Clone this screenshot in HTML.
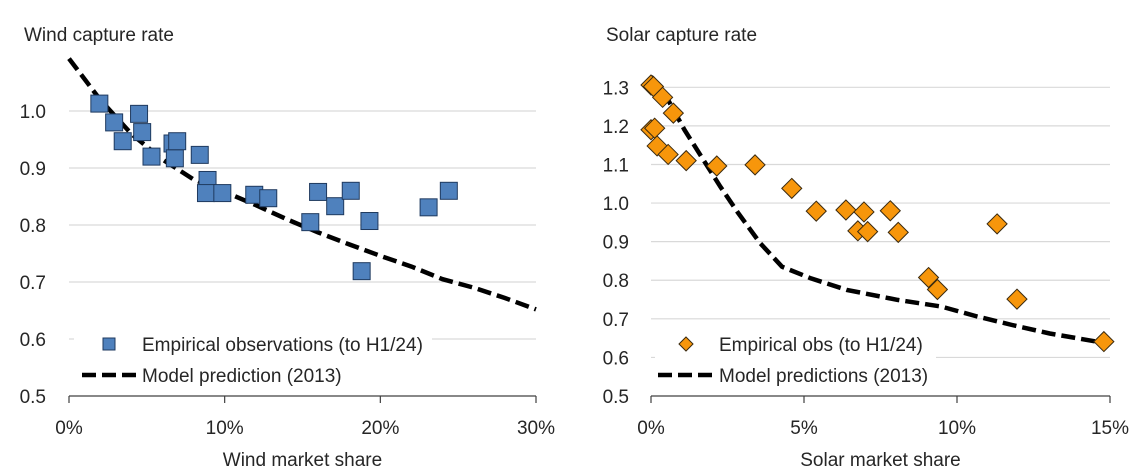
<!DOCTYPE html>
<html><head><meta charset="utf-8"><style>
html,body{margin:0;padding:0;background:#fff;width:1147px;height:472px;overflow:hidden}
svg text{font-family:"Liberation Sans",sans-serif;fill:#262626}
</style></head><body>
<svg id="c" width="1147" height="472" viewBox="0 0 1147 472" xmlns="http://www.w3.org/2000/svg"></svg>
<script>
const windShare=[1.95,2.9,3.45,4.5,4.7,5.3,6.65,6.8,6.95,8.4,8.9,8.8,9.85,11.9,12.8,15.5,16.0,17.1,18.1,18.8,19.3,23.1,24.4];
const windRate=[1.013,0.98,0.947,0.995,0.963,0.92,0.943,0.917,0.947,0.923,0.879,0.856,0.856,0.853,0.847,0.805,0.858,0.833,0.860,0.719,0.807,0.831,0.860];
const windModelX=[0,2,4,6,8,10,12,14,16,18,20,22,24,26,28,30];
const windModelY=[1.092,1.02,0.96,0.915,0.88,0.858,0.835,0.81,0.787,0.766,0.746,0.727,0.705,0.69,0.672,0.652];
const solarShare=[0,0.08,0.38,0.73,0,0.12,0.2,0.56,1.15,2.15,3.4,4.6,5.4,6.37,6.76,6.96,7.08,7.82,8.08,9.07,9.36,11.31,11.96,14.8];
const solarRate=[1.306,1.302,1.274,1.233,1.19,1.194,1.148,1.126,1.11,1.096,1.099,1.038,0.979,0.982,0.928,0.977,0.926,0.98,0.924,0.807,0.776,0.946,0.751,0.641];
const solarModelX=[0,0.5,1.09,1.68,2.27,2.86,3.57,4.28,5.22,6.4,8.06,9.48,10.66,11.8,13.03,15];
const solarModelY=[1.328,1.276,1.19,1.116,1.042,0.973,0.896,0.835,0.805,0.775,0.749,0.732,0.706,0.684,0.662,0.635];
const windYTicks=[0.5,0.6,0.7,0.8,0.9,1.0];
const windXTicks=[0,10,20,30];
const solarYTicks=[0.5,0.6,0.7,0.8,0.9,1.0,1.1,1.2,1.3];
const solarXTicks=[0,5,10,15];

const svg=document.getElementById('c');
const NS='http://www.w3.org/2000/svg';
const FS=19;
function mk(t,a,p){const e=document.createElementNS(NS,t);for(const k in a)e.setAttribute(k,a[k]);(p||svg).appendChild(e);return e;}

function chart(o){
  const g=mk('g',{});
  
  
  const X=v=>o.x0+(v-o.xmin)/(o.xmax-o.xmin)*(o.x1-o.x0);
  const Y=v=>o.y0-(v-0.5)/(o.ymax-0.5)*(o.y0-o.yTop);
  o.yTicks.forEach(t=>{
    if(t>0.5){const l=mk('line',{x1:o.x0,x2:o.x1,y1:Y(t),y2:Y(t),stroke:'#d9d9d9','stroke-width':1.2},g);
      }
    const tx=mk('text',{x:o.labX,y:Y(t)+7,'text-anchor':'end','font-size':FS},g);
    tx.textContent=t.toFixed(1);
    
  });
  const ax=mk('line',{x1:o.x0,x2:o.x1,y1:o.y0,y2:o.y0,stroke:'#404040','stroke-width':1.2},g);
  
  o.xTicks.forEach(t=>{
    mk('line',{x1:X(t),x2:X(t),y1:o.y0,y2:o.y0+7,stroke:'#404040','stroke-width':1.2},g);
    const tx=mk('text',{x:X(t),y:o.y0+38,'text-anchor':'middle','font-size':FS},g);
    tx.textContent=t+'%';
    
  });
  const lb=mk('rect',{x:o.legX,y:o.y0-72,width:o.legW,height:58,fill:'#fff'},g);
  
  const pts=o.mx.map((v,i)=>X(v).toFixed(1)+','+Y(o.my[i]).toFixed(1)).join(' ');
  const pl=mk('polyline',{points:pts,fill:'none',stroke:'#000','stroke-width':4.5,'stroke-dasharray':'14,6'},g);
  
  o.px.forEach((v,i)=>{
    const cx=X(v),cy=Y(o.py[i]);let m;
    if(o.marker==='square') m=mk('rect',{x:cx-8.5,y:cy-8.5,width:17,height:17,fill:'#4f81bd',stroke:'#1f3a5f','stroke-width':1},g);
    else m=mk('polygon',{points:`${cx},${cy-10} ${cx+10},${cy} ${cx},${cy+10} ${cx-10},${cy}`,fill:'#f7960b',stroke:'#3a2a10','stroke-width':1},g);
    
  });
  const ly1=o.y0-52,ly2=o.y0-21;
  let m;
  if(o.marker==='square') m=mk('rect',{x:o.lmx-6,y:ly1-6,width:12,height:12,fill:'#4f81bd',stroke:'#1f3a5f','stroke-width':1},g);
  else m=mk('polygon',{points:`${o.lmx},${ly1-7} ${o.lmx+7},${ly1} ${o.lmx},${ly1+7} ${o.lmx-7},${ly1}`,fill:'#f7960b',stroke:'#3a2a10','stroke-width':1},g);
  
  const t1=mk('text',{x:o.ltx,y:ly1+7,'font-size':FS},g);t1.textContent=o.leg1;
  
  const ll=mk('line',{x1:o.llx1,x2:o.llx2,y1:ly2,y2:ly2,stroke:'#000','stroke-width':4.5,'stroke-dasharray':'14,6'},g);
  
  const t2=mk('text',{x:o.ltx,y:ly2+7,'font-size':FS},g);t2.textContent=o.leg2;
  
  const ti=mk('text',{x:o.titleX,y:41,'font-size':FS},g);ti.textContent=o.title;
  
  const xt=mk('text',{x:(o.x0+o.x1)/2,y:466,'text-anchor':'middle','font-size':FS},g);xt.textContent=o.xTitle;
  
}
chart({name:'wind-chart',x0:69,x1:536,xmin:0,xmax:30,y0:396,yTop:111,ymax:1.0,labX:46,
  yTicks:windYTicks,xTicks:windXTicks,px:windShare,py:windRate,mx:windModelX,my:windModelY,marker:'square',
  legX:74,legW:358,lmx:109,ltx:142,llx1:82,llx2:136,leg1:'Empirical observations (to H1/24)',leg2:'Model prediction (2013)',
  title:'Wind capture rate',titleX:24,xTitle:'Wind market share'});
chart({name:'solar-chart',x0:651,x1:1110,xmin:0,xmax:15,y0:396,yTop:87.3,ymax:1.3,labX:629,
  yTicks:solarYTicks,xTicks:solarXTicks,px:solarShare,py:solarRate,mx:solarModelX,my:solarModelY,marker:'diamond',
  legX:655,legW:281,lmx:686,ltx:719,llx1:658,llx2:712,leg1:'Empirical obs (to H1/24)',leg2:'Model predictions (2013)',
  title:'Solar capture rate',titleX:606,xTitle:'Solar market share'});
</script>
</body></html>
